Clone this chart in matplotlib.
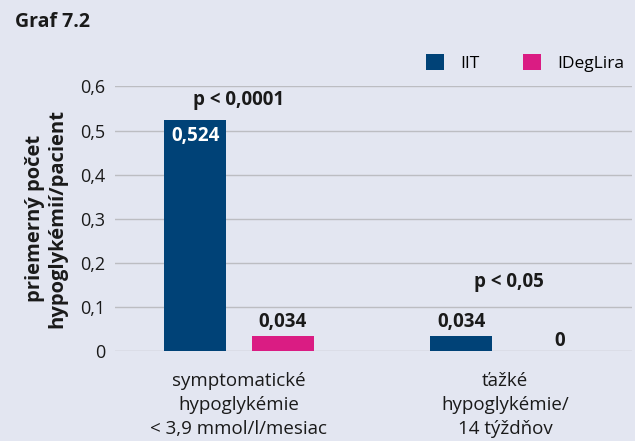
import matplotlib
matplotlib.use("Agg")
import matplotlib.pyplot as plt
import numpy as np
from matplotlib.patches import Patch

plt.rcParams['font.family'] = ['Open Sans', 'DejaVu Sans']

categories = ["symptomatické\nhypoglykémie\n< 3,9 mmol/l/mesiac", "ťažké\nhypoglykémie/\n14 týždňov"]
series_names = ["IIT", "IDegLira"]
iit = [0.524, 0.034]
ideglira = [0.034, 0.0]
value_labels_iit = ["0,524", "0,034"]
value_labels_ideg = ["0,034", "0"]
p_labels = ["p < 0,0001", "p < 0,05"]
yticks = [0, 0.1, 0.2, 0.3, 0.4, 0.5, 0.6]
ytick_labels = ["0", "0,1", "0,2", "0,3", "0,4", "0,5", "0,6"]

BG = "#e3e6f1"
BLUE = "#004277"
PINK = "#da1c83"
TXT = "#1a1a1a"

W, H = 635, 441
fig = plt.figure(figsize=(W/100, H/100), dpi=100, facecolor=BG)
ax = fig.add_axes([115/W, (H-350.7)/H, (632-115)/W, (350.7-86.5)/H])
ax.set_facecolor(BG)

x = np.arange(len(categories))
bw = 0.233
off = 0.165
b1 = ax.bar(x - off, iit, bw, color=BLUE, zorder=3)
b2 = ax.bar(x + off, ideglira, bw, color=PINK, zorder=3)

ax.set_xlim(-0.466, 1.477)
ax.set_ylim(0, 0.6)
ax.set_yticks(yticks)
ax.set_yticklabels(ytick_labels, fontsize=13, color=TXT)
ax.yaxis.grid(True, color="#bcbdc2", linewidth=1.0, zorder=0)
ax.set_axisbelow(True)
for s in ax.spines.values():
    s.set_visible(False)
ax.tick_params(axis='y', length=0, pad=7)
ax.tick_params(axis='x', length=0, pad=15)
ax.set_xticks(x)
ax.set_xticklabels(categories, fontsize=13.5, color=TXT, linespacing=1.45)

ax.set_ylabel("priemerný počet\nhypoglykémií/pacient", fontsize=14.5, fontweight='bold',
              color=TXT, linespacing=1.12)
ax.yaxis.set_label_coords(-0.093, 0.5)

bold = dict(ha='center', va='center', fontsize=13.5, fontweight='bold', zorder=4)
ax.text(x[0] - off, iit[0] - 0.036, value_labels_iit[0], color='white', **bold)
ax.text(x[1] - off, iit[1] + 0.032, value_labels_iit[1], color=TXT, **bold)
ax.text(x[0] + off, ideglira[0] + 0.032, value_labels_ideg[0], color=TXT, **bold)
ax.text(x[1] + off + 0.04, ideglira[1] + 0.023, value_labels_ideg[1], color=TXT, **bold)

ax.text(x[0], 0.57, p_labels[0], color=TXT, **bold)
ax.text(x[1] + 0.015, 0.156, p_labels[1], color=TXT, **bold)

fig.text(15/W, 1 - 22/H, "Graf 7.2", ha='left', va='center', fontsize=14,
         fontweight='bold', color=TXT)

handles = [Patch(facecolor=BLUE, edgecolor='none'), Patch(facecolor=PINK, edgecolor='none')]
fig.legend(handles, series_names, loc='center left', bbox_to_anchor=(426/W, 1 - 63/H),
           ncol=2, frameon=False, fontsize=12.5, handlelength=1.05, handleheight=1.05,
           handletextpad=0.95, columnspacing=2.45, borderpad=0, borderaxespad=0)

fig.savefig("out.png", dpi=100, facecolor=BG)
